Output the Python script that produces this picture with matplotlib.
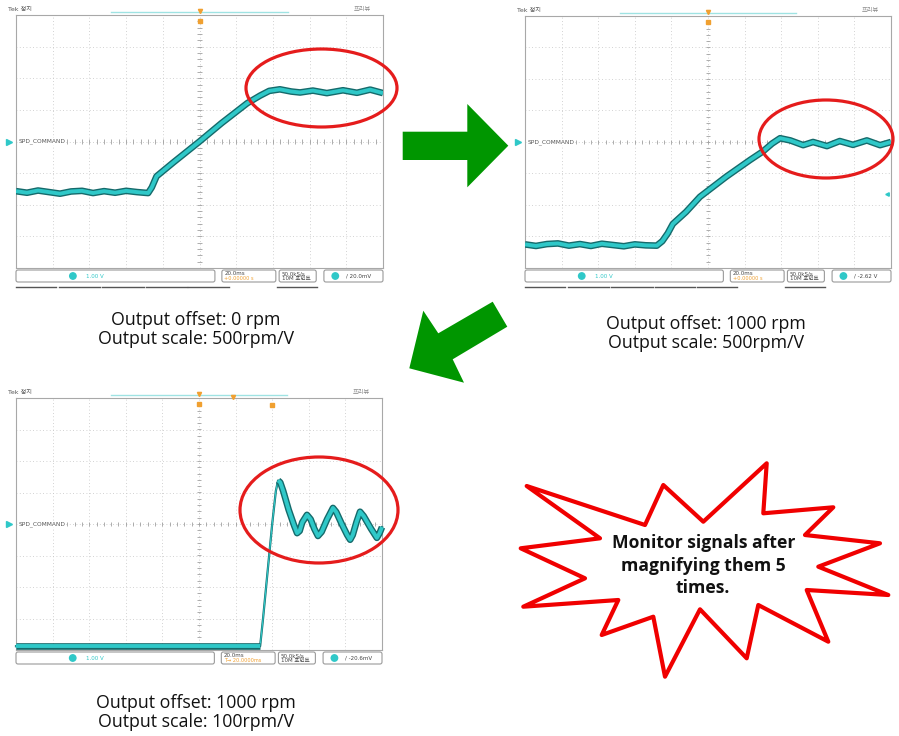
import numpy as np
import matplotlib
matplotlib.use("Agg")
import matplotlib.pyplot as plt
from matplotlib.patches import Ellipse, Polygon, FancyBboxPatch, Circle

W, H = 899, 736

# ---- traces (x: div 0..10, y: div -4..4)
t1_x = [0.0, 0.3, 0.6, 0.9, 1.2, 1.5, 1.8, 2.1, 2.4, 2.7, 3.0, 3.3, 3.6,
        3.7, 3.83, 4.3, 5.0, 5.6, 6.3, 6.65, 6.9, 7.19, 7.5, 7.74, 8.09,
        8.47, 8.91, 9.29, 9.65, 10.0]
t1_y = [-1.57, -1.62, -1.55, -1.60, -1.65, -1.58, -1.56, -1.63, -1.57, -1.62, -1.56, -1.60, -1.63,
        -1.45, -1.10, -0.65, 0.0, 0.58, 1.21, 1.45, 1.60, 1.65, 1.58, 1.55, 1.61,
        1.53, 1.62, 1.54, 1.64, 1.53]

t2_x = [0.0, 0.3, 0.6, 0.9, 1.2, 1.5, 1.8, 2.1, 2.4, 2.7, 3.0, 3.3, 3.6,
        3.75, 3.9, 4.04, 4.4, 4.78, 5.5, 6.15, 6.5, 6.75, 6.97, 7.25, 7.6,
        7.87, 8.25, 8.6, 8.96, 9.34, 9.7, 10.0]
t2_y = [-3.25, -3.30, -3.24, -3.22, -3.29, -3.24, -3.30, -3.23, -3.27, -3.31, -3.25, -3.28, -3.29,
        -3.15, -2.90, -2.60, -2.22, -1.74, -1.10, -0.57, -0.30, -0.05, 0.12, 0.05, -0.10,
        0.0, -0.13, 0.03, -0.09, 0.05, -0.10, 0.0]

t3_x = [0.0, 6.67, 6.75, 6.9, 7.0, 7.1, 7.16, 7.22, 7.3, 7.45, 7.6, 7.68, 7.75,
        7.82, 7.95, 8.05, 8.15, 8.25, 8.35, 8.5, 8.66, 8.75, 8.9, 9.05, 9.13,
        9.2, 9.3, 9.4, 9.5, 9.7, 9.86, 9.93, 10.0]
t3_y = [-3.88, -3.88, -3.0, -1.2, 0.0, 1.05, 1.38, 1.32, 1.05, 0.45, -0.05, -0.29, -0.22,
        0.05, 0.29, 0.15, -0.15, -0.38, -0.25, 0.15, 0.51, 0.38, 0.0, -0.35, -0.50,
        -0.35, 0.05, 0.39, 0.25, -0.15, -0.44, -0.30, -0.10]

captions = [["Output offset: 0 rpm", "Output scale: 500rpm/V"],
            ["Output offset: 1000 rpm", "Output scale: 500rpm/V"],
            ["Output offset: 1000 rpm", "Output scale: 100rpm/V"]]
trig_levels = ["20.0mV", "-2.62 V", "-20.6mV"]
burst_lines = ["Monitor signals after", "magnifying them 5", "times."]

KR = ["DejaVu Sans", "Noto Sans CJK KR"]
CYAN = "#2fc8c8"
CYAN_DK = "#156a6b"

fig = plt.figure(figsize=(W / 100, H / 100), dpi=100)


def band(ax, xs, ys, clip):
    ax.plot(xs, ys, color=CYAN_DK, lw=4.8, solid_joinstyle="round",
            solid_capstyle="butt", clip_on=clip, zorder=3)
    ax.plot(xs, ys, color=CYAN, lw=2.8, solid_joinstyle="round",
            solid_capstyle="butt", clip_on=clip, zorder=3)


def scope(x0, y0, x1, y1, xs, ys, thin=None):
    ax = fig.add_axes([x0 / W, 1 - y1 / H, (x1 - x0) / W, (y1 - y0) / H])
    ax.set_xlim(0, 10)
    ax.set_ylim(-4, 4)
    ax.set_xticks([])
    ax.set_yticks([])
    for s in ax.spines.values():
        s.set_color("#a8a8a8")
        s.set_linewidth(0.8)
    for i in range(1, 10):
        ax.axvline(i, color="#c4c4c4", lw=0.6, ls=(0, (1, 3)))
    for j in range(-3, 4):
        ax.axhline(j, color="#c4c4c4", lw=0.6, ls=(0, (1, 3)))
    tk = np.arange(0, 10.01, 0.2)
    ax.vlines(tk, -0.07, 0.07, color="#a0a0a0", lw=0.6)
    tk = np.arange(-4, 4.01, 0.2)
    ax.hlines(tk, 4.94, 5.06, color="#a0a0a0", lw=0.6)
    xs = np.array(xs)
    ys = np.array(ys)
    if thin is None:
        band(ax, xs, ys, True)
    else:
        ax.plot(xs, ys, color=CYAN_DK, lw=1.6, clip_on=False, zorder=3)
        ax.plot(xs, ys, color=CYAN, lw=0.8, clip_on=False, zorder=3)
        for m in (xs <= thin[0], xs >= thin[1]):
            band(ax, xs[m], ys[m], False)
    ax.plot(-0.18, 0, marker=">", color=CYAN, ms=4, clip_on=False)
    ax.text(0.06, 0, "SPD_COMMAND", fontsize=4.2, color="#555555", va="center",
            zorder=5, bbox=dict(fc="white", ec="none", pad=0.3))
    return ax


scope(16, 15, 383, 268, t1_x, t1_y)
ax2 = scope(525, 16, 891, 268, t2_x, t2_y)
ax2.plot(9.9, -1.65, marker="<", color=CYAN, ms=2.5, clip_on=False)
scope(16, 398, 382, 650, t3_x, t3_y, thin=(6.67, 7.16))

ov = fig.add_axes([0, 0, 1, 1], zorder=10)
ov.set_xlim(0, W)
ov.set_ylim(H, 0)
ov.axis("off")


def decor(x0, y0, x1, y1, trig, orange2, lines_below=True):
    w = x1 - x0
    ov.text(x0 - 8, y0 - 3, "Tek 정지", fontsize=4.5, color="#555555", family=KR, va="bottom")
    ov.text(x1 - 12, y0 - 3, "프리뷰", fontsize=4.5, color="#888888", family=KR, va="bottom", ha="right")
    ov.plot([x0 + 0.26 * w, x0 + 0.74 * w], [y0 - 3, y0 - 3], color="#9fe3e3", lw=1)
    ov.plot(x0 + w / 2, y0 - 4, marker="v", color="#f0a030", ms=3)
    ov.plot(x0 + w / 2, y0 + 6, marker="s", color="#f0a030", ms=3)
    yb, hb = y1 + 2, 12
    boxes = [(0.0, 0.542), (0.561, 0.708), (0.717, 0.818), (0.839, 1.0)]
    for a, b in boxes:
        ov.add_patch(FancyBboxPatch((x0 + a * w, yb), (b - a) * w, hb,
                                    boxstyle="round,pad=0,rounding_size=2",
                                    fc="white", ec="#9a9a9a", lw=0.8))
    ov.add_patch(Circle((x0 + 0.155 * w, yb + hb / 2), 3.2, color=CYAN))
    ov.text(x0 + 0.19 * w, yb + hb / 2, "1.00 V", fontsize=4, color=CYAN, va="center")
    ov.text(x0 + 0.568 * w, yb + 3.5, "20.0ms", fontsize=4, color="#444444", va="center")
    ov.text(x0 + 0.568 * w, yb + 8.5, orange2, fontsize=3.6, color="#f0a030", va="center")
    ov.text(x0 + 0.724 * w, yb + 3.5, "50.0kS/s", fontsize=4, color="#444444", va="center")
    ov.text(x0 + 0.724 * w, yb + 8.5, "10M 포인트", fontsize=4, color="#444444", va="center", family=KR)
    ov.add_patch(Circle((x0 + 0.87 * w, yb + hb / 2), 3.2, color=CYAN))
    ov.text(x0 + 0.9 * w, yb + hb / 2, "/ " + trig, fontsize=4, color="#444444", va="center")
    if lines_below:
        for a, b in [(0, 0.11), (0.117, 0.23), (0.235, 0.35), (0.355, 0.465), (0.47, 0.58), (0.71, 0.82)]:
            ov.plot([x0 + a * w, x0 + b * w], [y1 + 19, y1 + 19], color="#555555", lw=1)


decor(16, 15, 383, 268, trig_levels[0], "+0.00000 s")
decor(525, 16, 891, 268, trig_levels[1], "+0.00000 s")
decor(16, 398, 382, 650, trig_levels[2], "T\u2192 20.0000ms", lines_below=False)
ov.plot(233, 397, marker="v", color="#f0a030", ms=3)
ov.plot(272, 405, marker="s", color="#f0a030", ms=3)

# red ellipses
for cx, cy, ew, eh in [(321.5, 88, 151, 78), (826, 139, 134, 78), (319, 510, 158, 106)]:
    ov.add_patch(Ellipse((cx, cy), ew, eh, fill=False, ec="#e51c1c", lw=2.3))

# green arrows
ov.add_patch(Polygon([(402.7, 131.7), (467.3, 131.7), (467.3, 104), (508.3, 145.7),
                      (467.3, 187.3), (467.3, 160), (402.7, 160)], closed=True,
                     fc="#009600", ec="none"))
ov.add_patch(Polygon([(492.7, 301.7), (438.3, 333.3), (423.3, 310.7), (409.3, 368.3),
                      (464, 382.7), (452.7, 359.3), (507.3, 326.7)], closed=True,
                     fc="#009600", ec="none"))

# starburst
star = [(526.7, 486), (645, 525), (663.3, 485), (703.3, 521.7), (766.7, 463.3),
        (763.3, 513.3), (833.3, 507.3), (805, 535), (880, 543.3), (818.3, 566.7),
        (888.3, 595), (806.7, 590), (828.3, 641.7), (758.3, 605), (746.7, 658.3),
        (700, 609.3), (665, 676.7), (653.3, 616.7), (601.7, 635), (618.3, 600),
        (523.3, 606.7), (585, 578.3), (520.7, 548.3), (600, 538.3)]
ov.add_patch(Polygon(star, closed=True, fc="white", ec="#f00000", lw=3, joinstyle="round"))
for line, yb in zip(burst_lines, [548.3, 571.0, 592.7]):
    ov.text(703.3, yb, line, ha="center", va="baseline", fontsize=12.6,
            fontweight="bold", family="Open Sans", color="#111111")

# captions
for (cx, yb), lines in zip([(196, 325), (706, 329.3), (196, 708.5)], captions):
    for k, line in enumerate(lines):
        ov.text(cx, yb + 18.5 * k, line, ha="center", va="baseline", fontsize=12.8,
                family="Open Sans", color="#111111")

fig.savefig("out.png", dpi=100)
